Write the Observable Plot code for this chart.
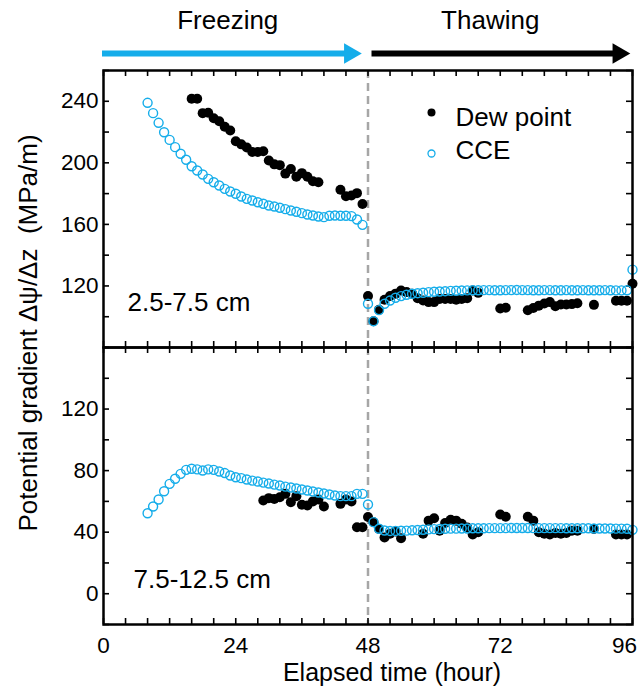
<!DOCTYPE html>
<html>
<head>
<meta charset="utf-8">
<script src="https://cdn.jsdelivr.net/npm/d3@7"></script>
<script src="https://cdn.jsdelivr.net/npm/@observablehq/plot@0.6"></script>
<style>
  body { margin: 0; background: #fff; }
  #chart { position: relative; width: 641px; height: 688px; overflow: hidden;
           font-family: "Liberation Sans", Arial, Helvetica, sans-serif; color: #000; }
  #chart svg { position: absolute; left: 0; overflow: visible; }
  #ytitle { position: absolute; left: 28px; top: 333px; white-space: pre; font-size: 26px;
            transform: translate(-50%, -50%) rotate(-90deg); }
</style>
</head>
<body>
<div id="chart"><div id="ytitle">Potential gradient Δψ/Δz  (MPa/m)</div></div>
<script>
// ---------------- data ----------------
const phases = ["Freezing", "Thawing"];
const phaseStart = [0, 48];
const phaseEnd = [48, 96];
const phaseColors = ["#15ADEA", "#000000"];
const transitionHour = 48;

const xTickLabels = [0, 24, 48, 72, 96];
const xMinorTicks = [0,4,8,12,16,20,24,28,32,36,40,44,48,52,56,60,64,68,72,76,80,84,88,92,96];

const depths = ["2.5-7.5 cm", "7.5-12.5 cm"];
const seriesNames = ["Dew point", "CCE"];

const topYDomain = [80, 260];
const topYTickLabels = [120, 160, 200, 240];
const topYMinor = [80,100,120,140,160,180,200,220,240,260];
const botYDomain = [-20, 160];
const botYTickLabels = [0, 40, 80, 120];
const botYMinor = [-20,0,20,40,60,80,100,120,140,160];

const cceHours = [8,9,10,11,12,13,14,15,16,17,18,19,20,21,22,23,24,25,26,27,28,29,30,31,32,33,34,35,36,37,38,39,40,41,42,43,44,45,46,47,
  48,49,50,51,52,53,54,55,56,57,58,59,60,61,62,63,64,65,66,67,68,69,70,71,72,73,74,75,76,77,78,79,80,81,82,83,84,85,86,87,88,89,90,91,92,93,94,95,96];

const cceTop = [239.0,232.3,226.0,219.9,214.9,210.2,205.9,202.0,197.8,195.0,192.4,189.6,187.4,185.3,183.1,181.4,179.9,178.1,176.6,175.5,
  174.4,173.4,172.3,171.6,170.8,169.9,169.0,168.2,167.3,166.4,165.8,165.1,164.7,165.6,165.8,165.6,165.6,165.4,163.2,159.7,
  108.4,97.1,104.3,108.4,110.5,112.3,113.4,114.3,114.9,115.3,115.6,116.0,116.2,116.4,116.6,116.8,116.9,117.0,117.1,117.2,
  117.2,117.3,117.3,117.2,117.2,117.3,117.3,117.4,117.3,117.3,117.2,117.2,117.3,117.3,117.2,117.2,117.3,117.2,117.2,117.3,
  117.2,117.2,117.2,117.3,117.2,117.1,117.1,117.2,130.6];

const cceBot = [52.3,56.7,61.2,66.6,71.4,74.7,77.9,80.5,81.2,80.8,80.1,80.8,80.5,79.4,78.4,76.8,75.7,75.1,74.2,73.5,
  72.9,72.2,71.6,70.9,70.3,69.6,69.0,68.4,67.7,67.1,66.4,65.8,65.1,64.5,63.8,63.4,63.4,63.4,64.9,64.9,
  58.0,46.5,42.2,41.1,40.8,40.8,40.9,41.0,41.2,41.4,41.6,41.8,42.0,42.1,42.2,42.3,42.3,42.4,42.4,42.5,
  42.5,42.5,42.6,42.6,42.6,42.6,42.7,42.7,42.7,42.7,42.6,42.6,42.6,42.6,42.6,42.6,42.5,42.5,42.5,42.5,
  42.5,42.4,42.4,42.4,42.4,42.3,42.3,42.2,41.5];

const dewTopHours = [16,17,18,19,20,21,22,23,24,25,26,27,28,29,30,31,32,33,34,35,36,37,38,39,43,44,45,46,47,
  48,49,50,51,52,53,54,55,56,57,58,59,60,61,62,63,64,65,66,67,68,72,73,77,78,79,80,81,82,83,84,85,86,89,93,94,95,96];
const dewTop = [241.6,241.6,232.3,232.5,229.0,227.0,223.5,221.0,214.0,212.0,210.0,207.0,207.0,207.5,201.5,199.0,198.5,193.0,196.0,191.0,193.3,191.0,188.0,187.4,
  182.5,178.3,178.8,180.3,173.3,
  113.5,97.0,104.5,111.0,113.5,115.0,117.0,116.0,115.0,112.0,110.5,109.5,109.5,111.5,111.5,111.5,111.0,111.5,112.0,117.0,115.5,
  105.3,105.8,104.2,105.7,107.2,108.6,109.5,106.8,107.9,108.0,108.2,108.7,107.7,110.4,110.4,110.4,121.4];

const dewBotHours = [29,30,31,32,33,34,35,36,37,38,39,40,43,44,45,46,47,48,49,50,51,52,53,54,58,59,60,61,62,63,64,65,66,67,68,
  72,73,77,78,79,80,81,82,83,84,85,86,89,93,94,95];
const dewBot = [60.6,62.1,61.6,62.7,64.9,59.5,63.4,57.8,57.3,60.0,61.2,56.7,58.4,61.2,60.0,43.2,43.2,
  49.8,46.5,42.0,36.5,39.0,40.5,36.0,39.0,47.5,49.0,41.0,46.0,48.0,47.5,45.5,43.0,38.5,40.0,
  51.5,50.0,50.0,47.5,40.0,39.0,38.5,39.5,39.0,39.5,41.0,41.0,42.0,38.5,38.5,38.5];

// ---------------- layout ----------------
const W = 641, ML = 103, MR = 9;
const INNER_W = W - ML - MR;
const INNER_H = 277;
const TICK = 6;
const FONT = '"Liberation Sans", Arial, Helvetica, sans-serif';
const BLUE = phaseColors[0];
const style = {fontFamily: FONT, overflow: "visible", background: "transparent", color: "#000"};
const chart = document.getElementById("chart");

const rows = (hours, vals) => hours.map((h, i) => ({hour: h, value: vals[i]}));

function place(svg, top) {
  svg.style.position = "absolute";
  svg.style.top = top + "px";
  svg.style.left = "0px";
  chart.appendChild(svg);
}

// ---------------- header (phase arrows) ----------------
const phaseRows = phases.map((p, i) => ({name: p, start: phaseStart[i], end: phaseEnd[i], color: phaseColors[i]}));
const headerMarks = [];
phaseRows.forEach((p, i) => {
  headerMarks.push(
    Plot.ruleY([p], {y: () => 0, x1: "start", x2: "end", stroke: p.color, strokeWidth: 6,
      insetLeft: i === 0 ? -1 : 4, insetRight: i === 0 ? 16 : 13}),
    Plot.dot([p], {x: "end", y: () => 0, symbol: "triangle", rotate: 90, r: 7.6,
      fill: p.color, stroke: null, dx: i === 0 ? -18 : -14}),
    Plot.text([p], {x: d => (d.start + d.end) / 2, text: "name", frameAnchor: "top", lineAnchor: "top",
      dy: 10.5, dx: i === 0 ? -8 : -10, fontSize: 26, fill: "#000"})
  );
});
place(Plot.plot({
  width: W, height: 70, marginLeft: ML, marginRight: MR, marginTop: 0, marginBottom: 17,
  x: {domain: [0, 96], axis: null}, y: {domain: [0, 1], axis: null},
  style, marks: headerMarks
}), 0);

// ---------------- panels ----------------
function panel({dew, cce, yDomain, yTicks, yMinor, depth, depthDx, marginBottom, bottomAxis, legend}) {
  const marks = [
    Plot.ruleX([transitionHour], {stroke: "#a6a6a6", strokeWidth: 2.5, strokeDasharray: "8,5"}),
    Plot.tickY(yMinor, {insetRight: INNER_W - TICK, strokeWidth: 1.6}),
    Plot.tickY(yMinor, {insetLeft: INNER_W - TICK, strokeWidth: 1.6}),
    Plot.tickX(xMinorTicks, {insetTop: INNER_H - TICK, strokeWidth: 1.6}),
    Plot.tickX(xMinorTicks, {insetBottom: INNER_H - TICK, strokeWidth: 1.6}),
    Plot.axisY(yTicks, {tickSize: 0, tickPadding: 5, fontSize: 22.5, label: null}),
    Plot.dot(dew, {x: "hour", y: "value", r: 5, fill: "#000", stroke: null}),
    Plot.dot(cce, {x: "hour", y: "value", r: 4.5, stroke: BLUE, strokeWidth: 1.4, fill: "none"}),
    Plot.frame({strokeWidth: 2.5}),
    Plot.text([depth], {frameAnchor: "bottom-left", textAnchor: "start", dx: depthDx, dy: -37, fontSize: 26})
  ];
  if (legend) {
    marks.push(
      Plot.dot([seriesNames[0]], {x: null, y: null, frameAnchor: "top-left", dx: 328, dy: 42, r: 4, fill: "#000", stroke: null}),
      Plot.dot([seriesNames[1]], {x: null, y: null, frameAnchor: "top-left", dx: 328, dy: 83, r: 3.5, stroke: BLUE, strokeWidth: 1.3, fill: "none"}),
      Plot.text([seriesNames[0]], {frameAnchor: "top-left", textAnchor: "start", dx: 352, dy: 37, fontSize: 26}),
      Plot.text([seriesNames[1]], {frameAnchor: "top-left", textAnchor: "start", dx: 352, dy: 70, fontSize: 26})
    );
  }
  if (bottomAxis) {
    marks.push(
      Plot.axisX(xTickLabels.slice(0, -1), {tickSize: 0, tickPadding: 13, fontSize: 22.5, label: null}),
      Plot.axisX(xTickLabels.slice(-1), {tickSize: 0, tickPadding: 13, fontSize: 22.5, label: null, dx: -8}),
      Plot.text(["Elapsed time (hour)"], {frameAnchor: "bottom", lineAnchor: "top", dx: 24, dy: 39, fontSize: 25})
    );
  }
  return Plot.plot({
    width: W, height: 10 + INNER_H + marginBottom,
    marginLeft: ML, marginRight: MR, marginTop: 10, marginBottom,
    x: {domain: [0, 96], axis: null},
    y: {domain: yDomain, axis: null},
    style, marks
  });
}

place(panel({
  dew: rows(dewTopHours, dewTop), cce: rows(cceHours, cceTop),
  yDomain: topYDomain, yTicks: topYTickLabels, yMinor: topYMinor,
  depth: depths[0], depthDx: 24, marginBottom: 10, bottomAxis: false, legend: true
}), 60);

place(panel({
  dew: rows(dewBotHours, dewBot), cce: rows(cceHours, cceBot),
  yDomain: botYDomain, yTicks: botYTickLabels, yMinor: botYMinor,
  depth: depths[1], depthDx: 30, marginBottom: 64, bottomAxis: true, legend: false
}), 337);
</script>
</body>
</html>
